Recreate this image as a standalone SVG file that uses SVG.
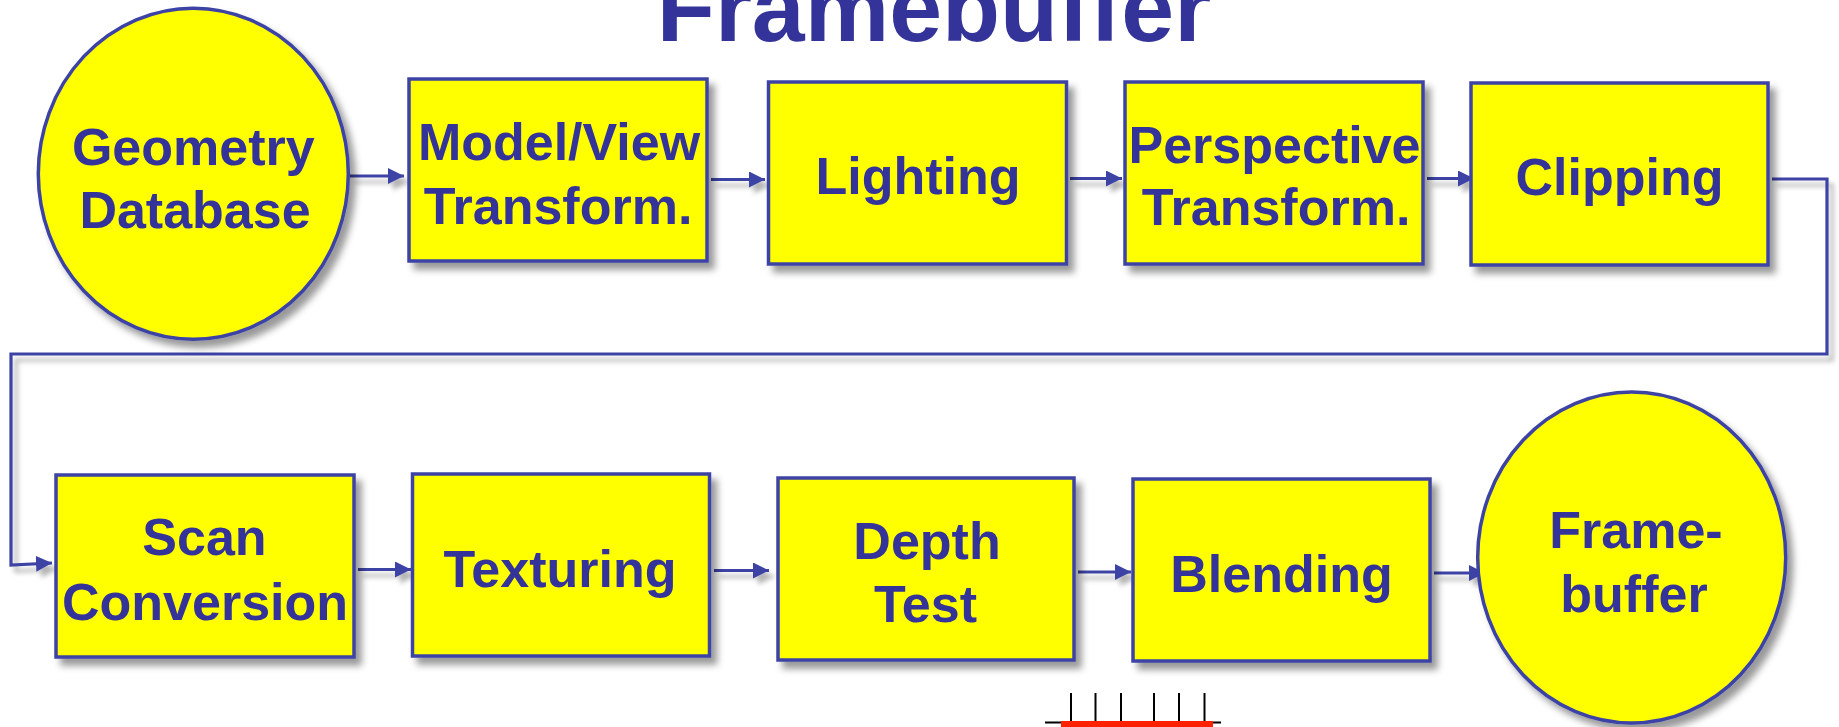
<svg xmlns="http://www.w3.org/2000/svg" width="1839" height="727" viewBox="0 0 1839 727">
  <defs>
    <style>
      .node { fill: #FFFF00; stroke: #3C43A5; stroke-width: 3.5; filter: url(#shadow); }
      .label { font-family: "Liberation Sans", Arial, sans-serif; font-weight: bold; font-size: 52px; fill: #333399; text-anchor: middle; }
      .title { font-family: "Liberation Sans", Arial, sans-serif; font-weight: bold; font-size: 95px; fill: #333399; text-anchor: middle; }
      .wire { fill: none; stroke: #3C43A5; stroke-width: 3.2; }
      .arrow { marker-end: url(#head); }
      .tick { stroke: #000; stroke-width: 2; }
    </style>
    <filter id="shadow" x="-10%" y="-10%" width="130%" height="130%">
      <feDropShadow dx="6" dy="7" stdDeviation="3.5" flood-color="#000" flood-opacity="0.4"/>
    </filter>
    <filter id="wireShadow" x="-5%" y="-5%" width="110%" height="120%">
      <feDropShadow dx="5" dy="6" stdDeviation="2.5" flood-color="#000" flood-opacity="0.3"/>
    </filter>
    <marker id="head" markerUnits="userSpaceOnUse" markerWidth="17" markerHeight="17" refX="16" refY="8" orient="auto">
      <path d="M0,0 L16,8 L0,16 Z" fill="#3C43A5"/>
    </marker>
  </defs>

  <rect width="1839" height="727" fill="#FFFFFF"/>

  <!-- heading -->
  <text class="title" x="934" y="41">Framebuffer</text>

  <!-- pipeline connectors -->
  <g id="connectors" filter="url(#wireShadow)">
    <line class="wire arrow" x1="350" y1="176" x2="404" y2="176"/>
    <line class="wire arrow" x1="711" y1="179.5" x2="765" y2="179.5"/>
    <line class="wire arrow" x1="1070" y1="178.5" x2="1122" y2="178.5"/>
    <line class="wire arrow" x1="1427" y1="178.5" x2="1474" y2="178.5"/>
    <path class="wire arrow" d="M1772,179 L1827,179 L1827,354 L11,354 L11,565 L52,563"/>
    <line class="wire arrow" x1="358" y1="569.5" x2="411" y2="569.5"/>
    <line class="wire arrow" x1="714" y1="570.5" x2="769" y2="570.5"/>
    <line class="wire arrow" x1="1078" y1="572" x2="1131" y2="572"/>
    <line class="wire arrow" x1="1434" y1="573" x2="1485" y2="573"/>
  </g>

  <g id="geometry-database">
    <ellipse class="node" cx="193.3" cy="173.7" rx="155" ry="165.5"/>
    <text class="label" x="193.3" y="164.5">Geometry</text>
    <text class="label" x="195" y="228">Database</text>
  </g>

  <g id="model-view-transform">
    <rect class="node" x="409" y="79" width="298" height="182"/>
    <text class="label" x="559" y="160">Model/View</text>
    <text class="label" x="558" y="223.5">Transform.</text>
  </g>

  <g id="lighting">
    <rect class="node" x="768.5" y="82" width="298" height="182"/>
    <text class="label" x="918" y="194">Lighting</text>
  </g>

  <g id="perspective-transform">
    <rect class="node" x="1125" y="82" width="298" height="182"/>
    <text class="label" x="1274.5" y="162.5">Perspective</text>
    <text class="label" x="1276" y="225">Transform.</text>
  </g>

  <g id="clipping">
    <rect class="node" x="1471" y="83" width="297" height="182"/>
    <text class="label" x="1619.5" y="195">Clipping</text>
  </g>

  <g id="scan-conversion">
    <rect class="node" x="56" y="475" width="298" height="182"/>
    <text class="label" x="204.5" y="555">Scan</text>
    <text class="label" x="205" y="619.5">Conversion</text>
  </g>

  <g id="texturing">
    <rect class="node" x="412.5" y="474" width="297" height="182"/>
    <text class="label" x="560" y="586.5">Texturing</text>
  </g>

  <g id="depth-test">
    <rect class="node" x="778" y="478" width="296" height="182"/>
    <text class="label" x="927" y="558.5">Depth</text>
    <text class="label" x="925.5" y="621.5">Test</text>
  </g>

  <g id="blending">
    <rect class="node" x="1133" y="479" width="297" height="182"/>
    <text class="label" x="1281.5" y="591.5">Blending</text>
  </g>

  <g id="framebuffer">
    <ellipse class="node" cx="1631.7" cy="557.5" rx="154" ry="165.5"/>
    <text class="label" x="1636" y="547.5">Frame-</text>
    <text class="label" x="1634" y="611.5">buffer</text>
  </g>

  <!-- pixel row sketch -->
  <g id="pixel-row">
    <line class="tick" x1="1045" y1="722.5" x2="1221" y2="722.5"/>
    <line class="tick" x1="1071" y1="693" x2="1071" y2="722"/>
    <line class="tick" x1="1095.5" y1="693" x2="1095.5" y2="722"/>
    <line class="tick" x1="1121" y1="693" x2="1121" y2="722"/>
    <line class="tick" x1="1154" y1="693" x2="1154" y2="722"/>
    <line class="tick" x1="1179" y1="693" x2="1179" y2="722"/>
    <line class="tick" x1="1204.5" y1="693" x2="1204.5" y2="722"/>
    <rect x="1061" y="721" width="152" height="6" fill="#FF2200"/>
  </g>
</svg>
